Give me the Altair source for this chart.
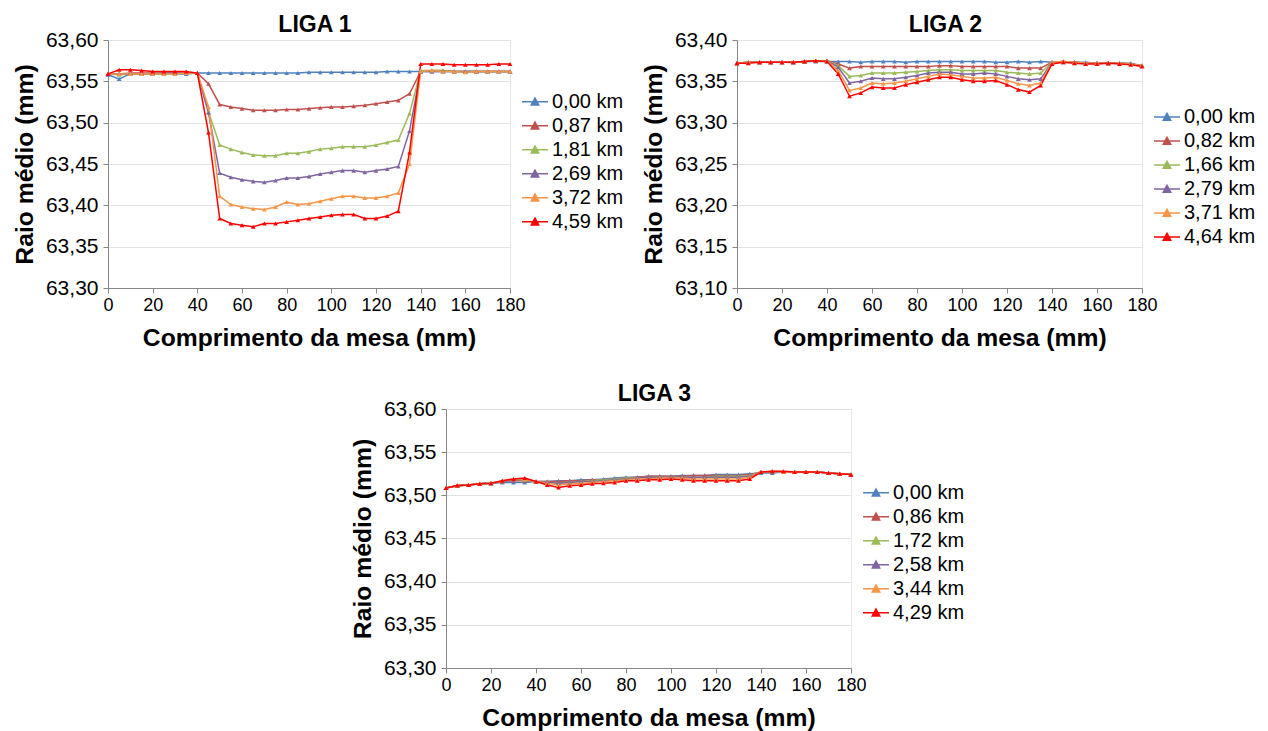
import altair as alt
import pandas as pd

# Posições ao longo da mesa (mm)
X_MM = [0, 5, 10, 15, 20, 25, 30, 35, 40, 45, 50, 55, 60, 65, 70, 75, 80, 85, 90,
        95, 100, 105, 110, 115, 120, 125, 130, 135, 140, 145, 150, 155, 160, 165,
        170, 175, 180]

COLORS = ["#4F81BD", "#C0504D", "#9BBB59", "#8064A2", "#F79646", "#FF0000"]
FONT = "Liberation Sans"

# ---------------- LIGA 1 ----------------
LIGA1_LABELS = ["0,00 km", "0,87 km", "1,81 km", "2,69 km", "3,72 km", "4,59 km"]
LIGA1_000 = [63.558, 63.553, 63.559, 63.559, 63.559, 63.559, 63.559, 63.559, 63.560,
             63.560, 63.560, 63.560, 63.560, 63.560, 63.560, 63.560, 63.560, 63.560,
             63.561, 63.561, 63.561, 63.561, 63.561, 63.561, 63.561, 63.562, 63.562,
             63.562, 63.562, 63.562, 63.562, 63.562, 63.562, 63.562, 63.562, 63.562, 63.562]
LIGA1_087 = [63.559, 63.559, 63.560, 63.560, 63.560, 63.560, 63.560, 63.560, 63.560,
             63.547, 63.522, 63.519, 63.517, 63.515, 63.515, 63.515, 63.516, 63.516,
             63.517, 63.518, 63.519, 63.519, 63.520, 63.521, 63.523, 63.525, 63.527,
             63.535, 63.562, 63.563, 63.563, 63.562, 63.562, 63.562, 63.562, 63.562, 63.562]
LIGA1_181 = [63.559, 63.558, 63.559, 63.559, 63.559, 63.560, 63.560, 63.560, 63.560,
             63.513, 63.473, 63.468, 63.464, 63.461, 63.460, 63.460, 63.463, 63.463,
             63.465, 63.468, 63.469, 63.471, 63.471, 63.471, 63.473, 63.476, 63.479,
             63.511, 63.563, 63.563, 63.563, 63.562, 63.562, 63.562, 63.562, 63.562, 63.562]
LIGA1_269 = [63.559, 63.559, 63.559, 63.559, 63.559, 63.560, 63.560, 63.560, 63.560,
             63.512, 63.439, 63.434, 63.431, 63.429, 63.428, 63.430, 63.433, 63.433,
             63.435, 63.438, 63.440, 63.442, 63.442, 63.440, 63.442, 63.444, 63.447,
             63.490, 63.562, 63.562, 63.562, 63.562, 63.562, 63.562, 63.562, 63.562, 63.562]
LIGA1_372 = [63.559, 63.559, 63.559, 63.559, 63.559, 63.559, 63.559, 63.560, 63.560,
             63.519, 63.411, 63.401, 63.398, 63.396, 63.395, 63.398, 63.404, 63.401,
             63.402, 63.405, 63.408, 63.411, 63.411, 63.409, 63.409, 63.411, 63.415,
             63.450, 63.562, 63.563, 63.562, 63.562, 63.561, 63.562, 63.562, 63.562, 63.562]
LIGA1_459 = [63.559, 63.564, 63.564, 63.563, 63.562, 63.562, 63.562, 63.562, 63.560,
             63.488, 63.384, 63.378, 63.376, 63.374, 63.378, 63.378, 63.380, 63.382,
             63.384, 63.386, 63.388, 63.389, 63.389, 63.384, 63.384, 63.387, 63.393,
             63.464, 63.571, 63.571, 63.571, 63.570, 63.570, 63.570, 63.570, 63.571, 63.571]
LIGA1_TICKS = [63.30, 63.35, 63.40, 63.45, 63.50, 63.55, 63.60]

# ---------------- LIGA 2 ----------------
LIGA2_LABELS = ["0,00 km", "0,82 km", "1,66 km", "2,79 km", "3,71 km", "4,64 km"]
LIGA2_000 = [63.372, 63.373, 63.373, 63.373, 63.373, 63.373, 63.374, 63.374, 63.374,
             63.374, 63.374, 63.373, 63.374, 63.374, 63.374, 63.373, 63.374, 63.374,
             63.374, 63.374, 63.374, 63.374, 63.374, 63.373, 63.373, 63.374, 63.373,
             63.374, 63.373, 63.373, 63.373, 63.373, 63.372, 63.372, 63.372, 63.372, 63.369]
LIGA2_082 = [63.372, 63.373, 63.373, 63.373, 63.373, 63.373, 63.374, 63.375, 63.375,
             63.371, 63.366, 63.368, 63.368, 63.368, 63.368, 63.368, 63.368, 63.368,
             63.369, 63.369, 63.368, 63.368, 63.368, 63.368, 63.368, 63.366, 63.366,
             63.366, 63.373, 63.374, 63.373, 63.372, 63.372, 63.372, 63.372, 63.371, 63.369]
LIGA2_166 = [63.372, 63.373, 63.373, 63.373, 63.373, 63.373, 63.374, 63.375, 63.375,
             63.369, 63.356, 63.357, 63.360, 63.360, 63.360, 63.361, 63.362, 63.363,
             63.364, 63.364, 63.363, 63.363, 63.363, 63.363, 63.361, 63.360, 63.359,
             63.360, 63.373, 63.374, 63.373, 63.372, 63.372, 63.372, 63.372, 63.371, 63.369]
LIGA2_279 = [63.372, 63.373, 63.373, 63.373, 63.373, 63.373, 63.374, 63.375, 63.375,
             63.367, 63.348, 63.350, 63.354, 63.353, 63.353, 63.355, 63.357, 63.360,
             63.361, 63.361, 63.359, 63.359, 63.360, 63.359, 63.356, 63.353, 63.352,
             63.353, 63.373, 63.374, 63.373, 63.372, 63.372, 63.372, 63.372, 63.371, 63.369]
LIGA2_371 = [63.372, 63.373, 63.373, 63.373, 63.373, 63.373, 63.374, 63.375, 63.375,
             63.363, 63.339, 63.342, 63.348, 63.347, 63.348, 63.350, 63.353, 63.356,
             63.359, 63.358, 63.356, 63.354, 63.354, 63.355, 63.351, 63.347, 63.345,
             63.348, 63.373, 63.374, 63.373, 63.372, 63.372, 63.372, 63.372, 63.371, 63.369]
LIGA2_464 = [63.372, 63.372, 63.373, 63.373, 63.373, 63.373, 63.374, 63.375, 63.374,
             63.359, 63.332, 63.336, 63.343, 63.342, 63.342, 63.346, 63.349, 63.352,
             63.355, 63.355, 63.352, 63.350, 63.350, 63.351, 63.346, 63.340, 63.337,
             63.345, 63.371, 63.373, 63.372, 63.371, 63.371, 63.372, 63.371, 63.370, 63.368]
LIGA2_TICKS = [63.10, 63.15, 63.20, 63.25, 63.30, 63.35, 63.40]

# ---------------- LIGA 3 ----------------
LIGA3_LABELS = ["0,00 km", "0,86 km", "1,72 km", "2,58 km", "3,44 km", "4,29 km"]
LIGA3_000 = [63.5085, 63.511, 63.512, 63.5135, 63.514, 63.515, 63.515, 63.515, 63.516,
             63.516, 63.517, 63.517, 63.518, 63.518, 63.519, 63.520, 63.521, 63.521,
             63.522, 63.522, 63.522, 63.523, 63.523, 63.523, 63.524, 63.524, 63.524,
             63.525, 63.526, 63.526, 63.527, 63.527, 63.527, 63.527, 63.526, 63.525, 63.524]
LIGA3_086 = [63.5085, 63.511, 63.512, 63.5135, 63.514, 63.516, 63.517, 63.517, 63.516,
             63.516, 63.516, 63.517, 63.517, 63.518, 63.518, 63.519, 63.520, 63.521,
             63.522, 63.522, 63.522, 63.522, 63.523, 63.523, 63.523, 63.523, 63.523,
             63.524, 63.527, 63.527, 63.527, 63.527, 63.527, 63.527, 63.526, 63.525, 63.524]
LIGA3_172 = [63.5085, 63.511, 63.512, 63.5135, 63.514, 63.516, 63.518, 63.518, 63.516,
             63.515, 63.514, 63.515, 63.516, 63.517, 63.518, 63.519, 63.520, 63.520,
             63.521, 63.521, 63.521, 63.521, 63.521, 63.521, 63.522, 63.522, 63.522,
             63.523, 63.527, 63.527, 63.527, 63.527, 63.527, 63.527, 63.526, 63.525, 63.524]
LIGA3_258 = [63.5085, 63.511, 63.512, 63.5135, 63.514, 63.516, 63.518, 63.519, 63.516,
             63.515, 63.514, 63.515, 63.516, 63.516, 63.517, 63.518, 63.519, 63.520,
             63.521, 63.521, 63.521, 63.521, 63.521, 63.521, 63.521, 63.521, 63.521,
             63.522, 63.527, 63.527, 63.527, 63.527, 63.527, 63.527, 63.526, 63.525, 63.524]
LIGA3_344 = [63.5085, 63.511, 63.512, 63.5135, 63.514, 63.517, 63.519, 63.519, 63.516,
             63.514, 63.512, 63.513, 63.514, 63.515, 63.516, 63.517, 63.518, 63.519,
             63.519, 63.520, 63.520, 63.520, 63.519, 63.519, 63.519, 63.519, 63.519,
             63.521, 63.527, 63.528, 63.527, 63.527, 63.527, 63.527, 63.526, 63.525, 63.524]
LIGA3_429 = [63.5085, 63.5115, 63.512, 63.5135, 63.514, 63.517, 63.519, 63.520, 63.516,
             63.512, 63.509, 63.511, 63.512, 63.5135, 63.514, 63.515, 63.517, 63.517,
             63.518, 63.518, 63.519, 63.518, 63.517, 63.517, 63.517, 63.517, 63.517,
             63.519, 63.527, 63.528, 63.528, 63.527, 63.527, 63.527, 63.526, 63.525, 63.524]
LIGA3_TICKS = [63.30, 63.35, 63.40, 63.45, 63.50, 63.55, 63.60]

X_TICKS = [0, 20, 40, 60, 80, 100, 120, 140, 160, 180]

# Linha com marcador triangular, como nas entradas da legenda
LEGEND_SYMBOL = "M-1,0H1M-0.28,0.25L0,-0.27L0.28,0.25Z"


def frame(labels, series):
    rows = []
    for k, (lab, vals) in enumerate(zip(labels, series)):
        for x, v in zip(X_MM, vals):
            rows.append({"x": x, "y": v, "serie": lab, "ordem": k})
    return pd.DataFrame(rows)


def panel(title, labels, series, y_ticks, width, height, legend_y, row_h):
    df = frame(labels, series)
    color = alt.Color(
        "serie:N",
        sort=labels,
        scale=alt.Scale(domain=labels, range=COLORS),
        legend=alt.Legend(
            title=None, orient="none", legendX=width + 11, legendY=legend_y,
            symbolType=LEGEND_SYMBOL, symbolSize=676, symbolStrokeWidth=1.6,
            labelFont=FONT, labelFontSize=20, labelColor="#000000",
            labelOffset=3, clipHeight=row_h, rowPadding=0, padding=0,
        ),
    )
    x = alt.X(
        "x:Q",
        scale=alt.Scale(domain=[0, 180], nice=False, zero=False),
        axis=alt.Axis(
            values=X_TICKS, title="Comprimento da mesa (mm)", grid=False,
            labelFontSize=18, labelFont=FONT, labelColor="#000000", labelFlush=False,
            labelPadding=3, tickSize=5, tickColor="#868686", domainColor="#868686",
            titleFont=FONT, titleFontSize=24.7, titleFontWeight="bold",
            titleColor="#000000", titlePadding=11,
        ),
    )
    y = alt.Y(
        "y:Q",
        scale=alt.Scale(domain=[y_ticks[0], y_ticks[-1]], nice=False, zero=False),
        axis=alt.Axis(
            values=y_ticks, title="Raio médio (mm)", grid=True, gridColor="#E3E3E3",
            labelExpr="replace(format(datum.value, '.2f'), '.', ',')",
            labelFontSize=21, labelFont=FONT, labelColor="#000000", labelFlush=False,
            labelPadding=5, tickSize=5, tickColor="#868686", domainColor="#868686",
            titleFont=FONT, titleFontSize=24.7, titleFontWeight="bold",
            titleColor="#000000", titlePadding=8,
        ),
    )
    base = alt.Chart(df).encode(x=x, y=y, color=color, order="ordem:Q")
    lines = base.mark_line(strokeWidth=1.5)
    points = base.mark_point(shape="triangle-up", filled=True, size=22, opacity=1)
    return alt.layer(lines, points).properties(
        width=width,
        height=height,
        title=alt.TitleParams(
            text=title, font=FONT, fontSize=23, fontWeight="bold",
            color="#000000", offset=-8, dx=6, anchor="middle",
        ),
    )


p1 = panel("LIGA 1", LIGA1_LABELS,
           [LIGA1_000, LIGA1_087, LIGA1_181, LIGA1_269, LIGA1_372, LIGA1_459],
           LIGA1_TICKS, 402, 248, 50, 23.4)
p2 = panel("LIGA 2", LIGA2_LABELS,
           [LIGA2_000, LIGA2_082, LIGA2_166, LIGA2_279, LIGA2_371, LIGA2_464],
           LIGA2_TICKS, 405, 248, 65, 24)
p3 = panel("LIGA 3", LIGA3_LABELS,
           [LIGA3_000, LIGA3_086, LIGA3_172, LIGA3_258, LIGA3_344, LIGA3_429],
           LIGA3_TICKS, 405, 259, 72, 23.4)

# Espaçador invisível que centra o terceiro gráfico
spacer = alt.Chart(pd.DataFrame({"v": [0]})).mark_point(opacity=0).encode(
    x=alt.value(0), y=alt.value(0)
).properties(width=240, height=10, view=alt.ViewBackground(stroke="transparent"))

top = alt.hconcat(p1, p2, spacing=15).resolve_scale(color="independent")
bottom = alt.hconcat(spacer, p3, spacing=0).resolve_scale(color="independent")

chart = alt.vconcat(top, bottom, spacing=31).resolve_scale(
    color="independent"
).properties(
    padding={"left": 11, "top": 13, "right": 5, "bottom": 5},
    background="#ffffff",
).configure_view(stroke="#E8E8E8")

chart.save("out.html", embed_options={"renderer": "svg", "actions": False})
